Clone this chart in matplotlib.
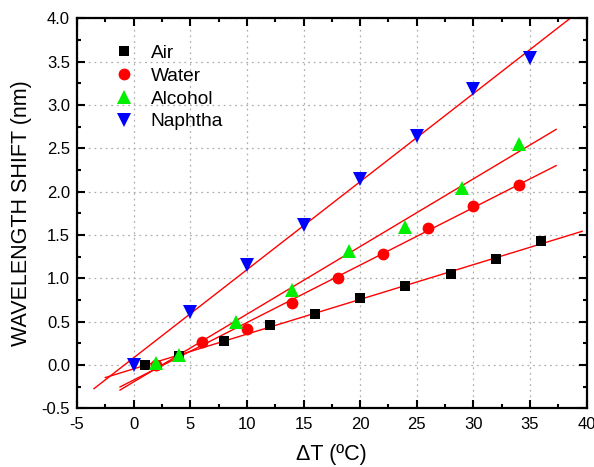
import numpy as np
import matplotlib
matplotlib.use("Agg")
import matplotlib.pyplot as plt
from matplotlib.ticker import MultipleLocator

plt.rcParams['font.family'] = ['Liberation Sans', 'DejaVu Sans']
plt.rcParams['axes.unicode_minus'] = False

air_x = [1, 4, 8, 12, 16, 20, 24, 28, 32, 36]
air_y = [0.00, 0.10, 0.28, 0.46, 0.585, 0.77, 0.91, 1.05, 1.22, 1.43]

water_x = [2, 6, 10, 14, 18, 22, 26, 30, 34]
water_y = [0.00, 0.27, 0.42, 0.71, 1.00, 1.28, 1.58, 1.84, 2.08]

alcohol_x = [2, 4, 9, 14, 19, 24, 29, 34]
alcohol_y = [0.02, 0.11, 0.49, 0.87, 1.31, 1.59, 2.04, 2.55]

naphtha_x = [0, 5, 10, 15, 20, 25, 30, 35]
naphtha_y = [0.00, 0.61, 1.15, 1.61, 2.15, 2.64, 3.19, 3.54]

# x-range over which each fitted line is drawn
fit_ranges = {
    'Air': (-2.5, 39.6),
    'Water': (-1.2, 37.3),
    'Alcohol': (-1.2, 37.3),
    'Naphtha': (-3.5, 40.0),
}

series = [
    ('Air', air_x, air_y, 's', 'black', 7.5),
    ('Water', water_x, water_y, 'o', 'red', 8.5),
    ('Alcohol', alcohol_x, alcohol_y, '^', '#00ee00', 10),
    ('Naphtha', naphtha_x, naphtha_y, 'v', 'blue', 10),
]

fig = plt.figure(figsize=(5.94, 4.67), dpi=100)
ax = fig.add_axes([0.1296, 0.1257, 0.8581, 0.8351])

for name, xs, ys, mk, col, ms in series:
    xs = np.array(xs, float)
    ys = np.array(ys, float)
    k, b = np.polyfit(xs, ys, 1)
    x0, x1 = fit_ranges[name]
    xl = np.array([x0, x1])
    ax.plot(xl, k * xl + b, color='red', lw=1.0, zorder=2)

for name, xs, ys, mk, col, ms in series:
    ax.plot(xs, ys, linestyle='none', marker=mk, color=col, markersize=ms,
            markeredgewidth=0, label=name, zorder=3)

ax.set_xlim(-5, 40)
ax.set_ylim(-0.5, 4.0)
ax.xaxis.set_major_locator(MultipleLocator(5))
ax.xaxis.set_minor_locator(MultipleLocator(2.5))
ax.yaxis.set_major_locator(MultipleLocator(0.5))
ax.yaxis.set_minor_locator(MultipleLocator(0.25))
ax.yaxis.set_major_formatter(matplotlib.ticker.FormatStrFormatter('%.1f'))
ax.tick_params(which='both', direction='in', top=True, right=True, width=1.5, labelsize=12)
ax.tick_params(which='major', length=6)
ax.tick_params(which='minor', length=3)
ax.tick_params(axis='x', pad=6)
ax.tick_params(axis='y', pad=5)
for s in ax.spines.values():
    s.set_linewidth(1.6)
ax.grid(True, which='major', linestyle=(0, (1.5, 3)), color='#b0b0b0', lw=0.9)
ax.set_axisbelow(True)

ax.set_xlabel('ΔT (ºC)', fontsize=15.5, labelpad=9)
ax.set_ylabel('WAVELENGTH SHIFT (nm)', fontsize=15.5, labelpad=7)

leg = ax.legend(loc='upper left', bbox_to_anchor=(0.058, 0.952), frameon=False,
                fontsize=13.8, handletextpad=0.9, labelspacing=0.28,
                handlelength=1.0, borderaxespad=0)

fig.savefig('out.png', dpi=100)
